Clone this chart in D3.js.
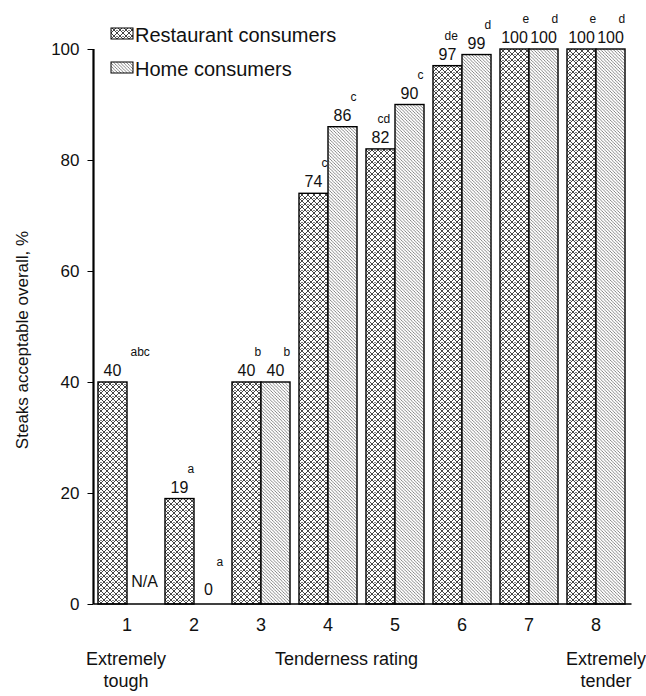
<!DOCTYPE html>
<html>
<head>
<meta charset="utf-8">
<script src="https://cdn.jsdelivr.net/npm/d3@7"></script>
<style>
  html, body { margin: 0; padding: 0; background: #fff; }
  svg { display: block; }
  text { font-family: "Liberation Sans", Arial, sans-serif; fill: #111; }
</style>
</head>
<body>
<svg id="chart" width="646" height="696"></svg>
<script>
// ---- data ----
const categories = ["1", "2", "3", "4", "5", "6", "7", "8"];
const restaurantValues = [40, 19, 40, 74, 82, 97, 100, 100];
const homeValues = [null, 0, 40, 86, 90, 99, 100, 100];
const restaurantLetters = ["abc", "a", "b", "c", "cd", "de", "e", "e"];
const homeLetters = ["", "a", "b", "c", "c", "d", "d", "d"];
const yTicks = [0, 20, 40, 60, 80, 100];
const seriesNames = ["Restaurant consumers", "Home consumers"];

// ---- layout ----
const svg = d3.select("#chart");
const plot = { left: 93.5, right: 629.5, top: 49, bottom: 604 };

const x0 = d3.scaleBand().domain(categories)
  .range([plot.left, plot.right]).paddingInner(0.134).paddingOuter(0.067);
const x1 = d3.scaleBand().domain(["r", "h"]).range([0, x0.bandwidth()]);
const y = d3.scaleLinear().domain([0, 100]).range([plot.bottom, plot.top]);

// ---- patterns ----
const defs = svg.append("defs");
const cross = defs.append("pattern").attr("id", "cross")
  .attr("patternUnits", "userSpaceOnUse").attr("width", 6).attr("height", 6);
cross.append("rect").attr("width", 6).attr("height", 6).attr("fill", "#fff");
cross.append("path").attr("d", "M0,0 L6,6 M6,0 L0,6 M-1,5 L1,7 M5,-1 L7,1 M-1,1 L1,-1 M5,7 L7,5")
  .attr("stroke", "#222").attr("stroke-width", 0.85);
cross.append("rect").attr("x", 2.3).attr("y", -0.7).attr("width", 1.4).attr("height", 1.4).attr("fill", "#000");

const diag = defs.append("pattern").attr("id", "diag")
  .attr("patternUnits", "userSpaceOnUse").attr("width", 3.2).attr("height", 3.2);
diag.append("rect").attr("width", 3.2).attr("height", 3.2).attr("fill", "#fff");
diag.append("path").attr("d", "M0,0 L3.2,3.2 M-1,2.2 L1,4.2 M2.2,-1 L4.2,1")
  .attr("stroke", "#555").attr("stroke-width", 0.7);

// ---- bars ----
const rows = categories.map((c, i) => ({
  cat: c,
  bars: [
    { key: "r", value: restaurantValues[i], letter: restaurantLetters[i] },
    { key: "h", value: homeValues[i], letter: homeLetters[i] }
  ]
}));

const groups = svg.append("g").selectAll("g").data(rows).join("g")
  .attr("transform", d => `translate(${x0(d.cat)},0)`);

groups.selectAll("rect").data(d => d.bars.filter(b => b.value !== null && b.value > 0)).join("rect")
  .attr("x", b => x1(b.key))
  .attr("y", b => y(b.value))
  .attr("width", x1.bandwidth())
  .attr("height", b => y(0) - y(b.value))
  .attr("fill", b => b.key === "r" ? "url(#cross)" : "url(#diag)")
  .attr("stroke", "#000").attr("stroke-width", 1.4);

// value labels (drawn above all bars)
const labelLayer = svg.append("g");
rows.forEach(d => {
  d.bars.forEach(b => {
    const cx = x0(d.cat) + x1(b.key) + x1.bandwidth() / 2;
    let base, label;
    if (b.value === null) { label = "N/A"; base = y(0) - 17; }
    else if (b.value === 0) { label = "0"; base = y(0) - 9; }
    else { label = String(b.value); base = y(b.value) - 6; }
    labelLayer.append("text").attr("x", cx + (b.value === null ? 3 : 0)).attr("y", base)
      .attr("text-anchor", "middle").attr("font-size", 16).text(label);
    if (b.letter) {
      const n = b.letter.length;
      const dx = n === 1 ? 8 : (n === 2 ? -3 : 18);
      const dy = b.value === 0 ? 29 : 20;
      labelLayer.append("text").attr("x", cx + dx).attr("y", base - dy)
        .attr("font-size", 12).text(b.letter);
    }
  });
});

// ---- axes ----
const yAxis = svg.append("g").attr("transform", `translate(${plot.left},0)`)
  .call(d3.axisLeft(y).tickValues(yTicks).tickSize(6).tickPadding(8));
yAxis.select(".domain").attr("stroke", "#000").attr("stroke-width", 2.2)
  .attr("d", `M0,${plot.top}V${plot.bottom}`);
yAxis.selectAll(".tick line").attr("stroke", "#000").attr("stroke-width", 1);
yAxis.selectAll(".tick text").attr("font-size", 17).attr("fill", "#111")
  .attr("font-family", "Liberation Sans, Arial, sans-serif");

const xAxis = svg.append("g").attr("transform", `translate(0,${plot.bottom})`)
  .call(d3.axisBottom(x0).tickSize(0).tickPadding(14));
xAxis.select(".domain").attr("stroke", "#000").attr("stroke-width", 1.3)
  .attr("d", `M${plot.left},0H${plot.right + 2}`);
xAxis.selectAll(".tick text").attr("font-size", 18).attr("fill", "#111")
  .attr("font-family", "Liberation Sans, Arial, sans-serif");

// y axis title
svg.append("text").attr("transform", "translate(28,340) rotate(-90)")
  .attr("text-anchor", "middle").attr("font-size", 17)
  .text("Steaks acceptable overall, %");

// x axis annotations
const xa = [
  { x: x0("1") + x0.bandwidth() / 2 - 1, lines: ["Extremely", "tough"] },
  { x: (x0("4") + x0("5") + x0.bandwidth()) / 2 - 15, lines: ["Tenderness rating"] },
  { x: x0("8") + x0.bandwidth() / 2 + 10, lines: ["Extremely", "tender"] }
];
xa.forEach(a => {
  a.lines.forEach((t, i) => {
    svg.append("text").attr("x", a.x).attr("y", 665 + i * 22)
      .attr("text-anchor", "middle").attr("font-size", 18).text(t);
  });
});

// ---- legend ----
const legend = svg.append("g");
seriesNames.forEach((name, i) => {
  const ly = 42 + i * 34;
  legend.append("rect").attr("x", 111).attr("y", ly - 14).attr("width", 22).attr("height", 11)
    .attr("fill", i === 0 ? "url(#cross)" : "url(#diag)")
    .attr("stroke", "#000").attr("stroke-width", 1);
  legend.append("text").attr("x", 135).attr("y", ly).attr("font-size", 20).text(name);
});
</script>
</body>
</html>
